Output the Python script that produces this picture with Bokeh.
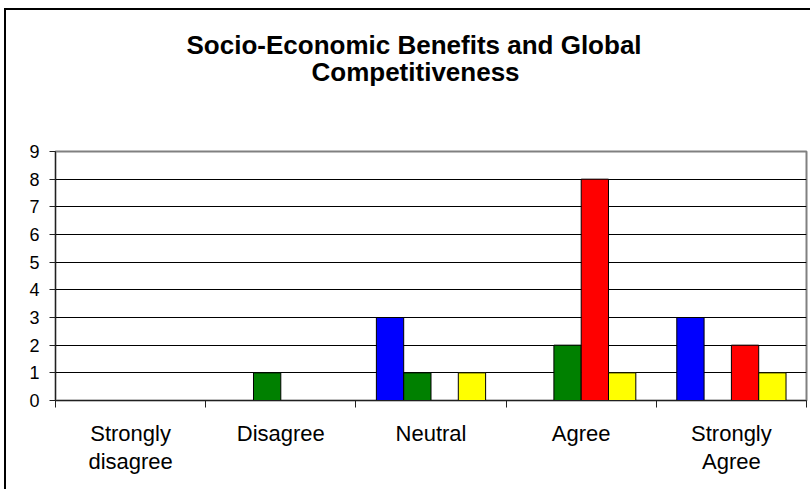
from bokeh.plotting import figure
from bokeh.models import Range1d, FixedTicker, Title, ColumnDataSource
from bokeh.embed import file_html
from bokeh.resources import INLINE

title_lines = ["Socio-Economic Benefits and Global", "Competitiveness"]
categories = ["Strongly\ndisagree", "Disagree", "Neutral", "Agree", "Strongly\nAgree"]
series_a = [0, 0, 3, 0, 3]   # blue
series_b = [0, 1, 1, 2, 0]   # green
series_c = [0, 0, 0, 8, 2]   # red
series_d = [0, 0, 1, 1, 1]   # yellow
y_ticks = [0, 1, 2, 3, 4, 5, 6, 7, 8, 9]

series = [series_a, series_b, series_c, series_d]
colors = ["#0000FF", "#008000", "#FF0000", "#FFFF00"]

FONT = "Liberation Sans"

p = figure(width=806, height=481, output_backend="svg", toolbar_location=None,
           x_range=Range1d(0, len(categories)), y_range=Range1d(0, 9),
           min_border_left=49, min_border_right=6, min_border_top=141,
           min_border_bottom=91)
p.styles = {"margin-left": "4px", "margin-top": "8px",
            "border-left": "2px solid black", "border-top": "2px solid black"}

bw = 1.0 / 5.5
n = len(series)
for i, (vals, col) in enumerate(zip(series, colors)):
    off = (i - (n - 1) / 2) * bw
    src = ColumnDataSource(dict(
        x=[k + 0.5 + off for k in range(len(categories))],
        top=vals,
        la=[1.0 if v > 0 else 0.0 for v in vals],
    ))
    p.vbar(x="x", top="top", bottom=0, width=bw, source=src,
           fill_color=col, line_color="black", line_width=1, line_alpha="la")

# titles (second line nearest to the plot, padded below with empty lines)
t2 = Title(text=title_lines[1] + "\n\n", align="left", offset=256,
           text_font=FONT, text_font_size="26px", text_font_style="bold",
           text_color="black", text_line_height=1.08,
           vertical_align="bottom", standoff=0)
t1 = Title(text=title_lines[0], align="left", offset=131,
           text_font=FONT, text_font_size="26px", text_font_style="bold",
           text_color="black", vertical_align="bottom", standoff=-11)
p.title = None
p.add_layout(t2, "above")
p.add_layout(t1, "above")

# grid
p.xgrid.visible = False
p.ygrid.ticker = FixedTicker(ticks=y_ticks)
p.ygrid.grid_line_color = "black"
p.ygrid.grid_line_width = 1

p.outline_line_color = "#808080"
p.outline_line_width = 2

# y axis
p.yaxis.ticker = FixedTicker(ticks=y_ticks)
p.yaxis.axis_line_color = "#202020"
p.yaxis.major_tick_line_color = "#202020"
p.yaxis.major_tick_out = 6
p.yaxis.major_tick_in = 0
p.yaxis.minor_tick_line_color = None
p.yaxis.major_label_text_font = FONT
p.yaxis.major_label_text_font_size = "18px"
p.yaxis.major_label_text_color = "black"
p.yaxis.major_label_standoff = 10

# x axis
centers = [k + 0.5 for k in range(len(categories))]
bounds = list(range(len(categories) + 1))
p.xaxis.ticker = FixedTicker(ticks=centers, minor_ticks=bounds)
p.xaxis.major_label_overrides = {c: lab for c, lab in zip(centers, categories)}
p.xaxis.axis_line_color = "#202020"
p.xaxis.major_tick_out = 0
p.xaxis.major_tick_in = 0
p.xaxis.minor_tick_out = 7
p.xaxis.minor_tick_in = 0
p.xaxis.minor_tick_line_color = "#202020"
p.xaxis.major_label_text_font = FONT
p.xaxis.major_label_text_font_size = "22px"
p.xaxis.major_label_text_color = "black"
p.xaxis.major_label_text_line_height = 1.14
p.xaxis.major_label_standoff = 13

p.border_fill_color = "white"
p.background_fill_color = "white"

open("out.html", "w").write(file_html(p, INLINE))
